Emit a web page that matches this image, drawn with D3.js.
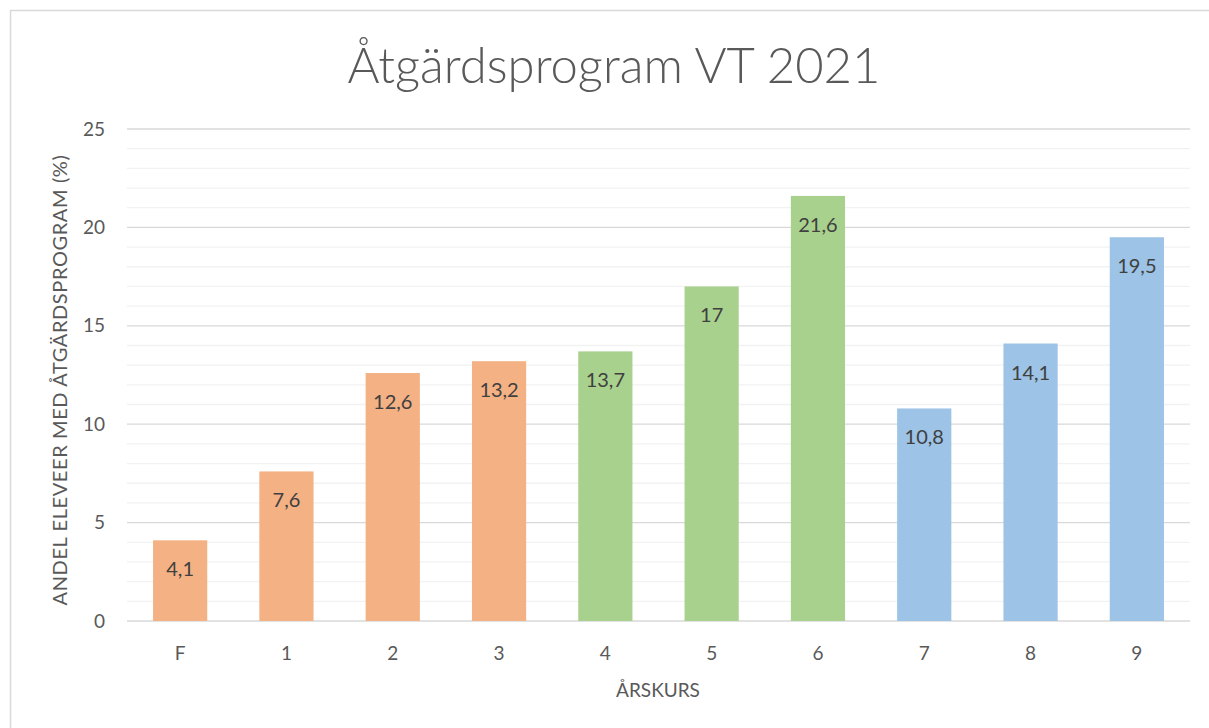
<!DOCTYPE html>
<html><head><meta charset="utf-8">
<script src="https://cdn.jsdelivr.net/npm/d3@7"></script>
<style>body{margin:0;background:#fff}svg{display:block}text{font-family:Lato,"Open Sans",sans-serif}</style>
</head><body><svg id="c" width="1209" height="728"></svg>
<script>
const categories = ["F","1","2","3","4","5","6","7","8","9"];
const values = [4.1,7.6,12.6,13.2,13.7,17,21.6,10.8,14.1,19.5];
const groups = ["low","low","low","low","mid","mid","mid","high","high","high"];
const yTicks = [0,5,10,15,20,25];
const minorTicks = d3.range(0,26,1);
const groupColors = {low:"#F4B183", mid:"#A9D18E", high:"#9DC3E6"};

const svg = d3.select("#c");
const W=1209,H=728;
const m={left:127,right:1190,top:129,bottom:621};
svg.append("rect").attr("x",10.5).attr("y",10.5).attr("width",W+10).attr("height",H+10)
  .attr("fill","#fff").attr("stroke","#d9d9d9").attr("stroke-width",1.5);

const x=d3.scaleBand().domain(categories).range([m.left,m.right]).paddingInner(0.49).paddingOuter(0.245);
const y=d3.scaleLinear().domain([0,25]).range([m.bottom,m.top]);

svg.append("g").selectAll("line").data(minorTicks.filter(d=>d%5!==0)).join("line")
  .attr("x1",m.left).attr("x2",m.right).attr("y1",d=>y(d)).attr("y2",d=>y(d))
  .attr("stroke","#f2f2f2").attr("stroke-width",1.3);
svg.append("g").selectAll("line").data(yTicks).join("line")
  .attr("x1",m.left).attr("x2",m.right).attr("y1",d=>y(d)).attr("y2",d=>y(d))
  .attr("stroke","#d9d9d9").attr("stroke-width",1.3);

svg.append("g").selectAll("rect").data(values).join("rect")
  .attr("x",(d,i)=>x(categories[i])).attr("width",x.bandwidth())
  .attr("y",d=>y(d)).attr("height",d=>y(0)-y(d))
  .attr("fill",(d,i)=>groupColors[groups[i]]);

svg.append("g").selectAll("text").data(values).join("text")
  .attr("x",(d,i)=>x(categories[i])+x.bandwidth()/2).attr("y",d=>y(d)+36)
  .attr("text-anchor","middle").attr("font-size",20).attr("fill","#404040")
  .text(d=>String(d).replace(".",","));

const yAxis=d3.axisLeft(y).tickValues(yTicks).tickSize(0).tickPadding(22);
const ya=svg.append("g").attr("transform",`translate(${m.left},0)`).call(yAxis);
ya.select(".domain").remove();
ya.selectAll("text").attr("font-size",19).attr("fill","#595959").attr("font-family","Lato");

const xAxis=d3.axisBottom(x).tickSize(0).tickPadding(26);
const xa=svg.append("g").attr("transform",`translate(0,${m.bottom})`).call(xAxis);
xa.select(".domain").remove();
xa.selectAll("text").attr("font-size",19).attr("fill","#595959").attr("font-family","Lato");

svg.append("text").attr("x",614).attr("y",83).attr("text-anchor","middle")
  .attr("font-size",49).attr("font-weight",300).attr("fill","#595959").text("Åtgärdsprogram VT 2021");
svg.append("text").attr("x",658).attr("y",697).attr("text-anchor","middle")
  .attr("font-size",19).attr("fill","#595959").text("ÅRSKURS");
svg.append("text").attr("transform",`translate(67,${(m.top+m.bottom)/2+5}) rotate(-90)`).attr("text-anchor","middle")
  .attr("font-size",20).attr("letter-spacing",0.6).attr("fill","#595959").text("ANDEL ELEVEER MED ÅTGÄRDSPROGRAM (%)");
</script></body></html>
